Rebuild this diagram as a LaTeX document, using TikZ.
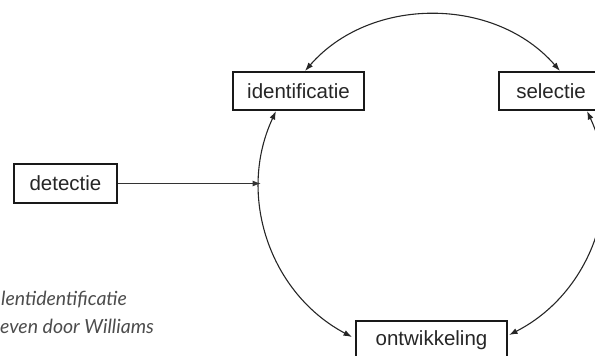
\documentclass[tikz,border=0pt]{standalone}
\usepackage{fontspec}
\setmainfont{Liberation Sans}
\newfontfamily\capfont{Lato}
\usetikzlibrary{arrows.meta,calc}
\tikzset{
  box/.style={draw=black!90, line width=2pt, inner sep=0pt, minimum height=38pt,
    font=\fontsize{20.5}{24}\selectfont, text=black!85},
  link/.style={draw=black!85, line width=1.1pt, {Latex[length=8.5pt,width=6pt]}-{Latex[length=8.5pt,width=6pt]}},
  feed/.style={draw=black!80, line width=1.1pt, -{Latex[length=8.5pt,width=6pt]}},
  caption/.style={font=\capfont\itshape\fontsize{19.5}{22}\selectfont, text=black!70, inner sep=0pt, anchor=base west}
}
\begin{document}
\begin{tikzpicture}[x=1pt,y=-1pt]
\useasboundingbox (0,0) rectangle (595,356);
\node[box, minimum width=131pt] (ident) at (298.5,91) {identificatie};
\node[box, minimum width=104pt] (sel) at (551,91) {selectie};
\node[box, minimum width=103pt, minimum height=39pt] (det) at (65.5,183.5) {detectie};
\node[box, minimum width=151pt] (ontw) at (431.5,340) {ontwikkeling};
\coordinate (hit) at (261,184);
\draw[link] ([xshift=6.5pt]ident.north) to[out=49,in=131] ([xshift=9pt]sel.north);
\draw[link] ([xshift=-22.5pt]ident.south) to[out=245,in=152] ([xshift=-3pt,yshift=3pt]ontw.west);
\draw[link] ([xshift=36pt]sel.south) to[out=-65,in=27] ([xshift=1pt,yshift=5pt]ontw.east);
\draw[feed] (det.east) -- (det.east -| hit);
\node[caption] (cap1) at (1,305) {lentidentificatie};
\node[caption] (cap2) at (0,333) {even door Williams};
\end{tikzpicture}
\end{document}
